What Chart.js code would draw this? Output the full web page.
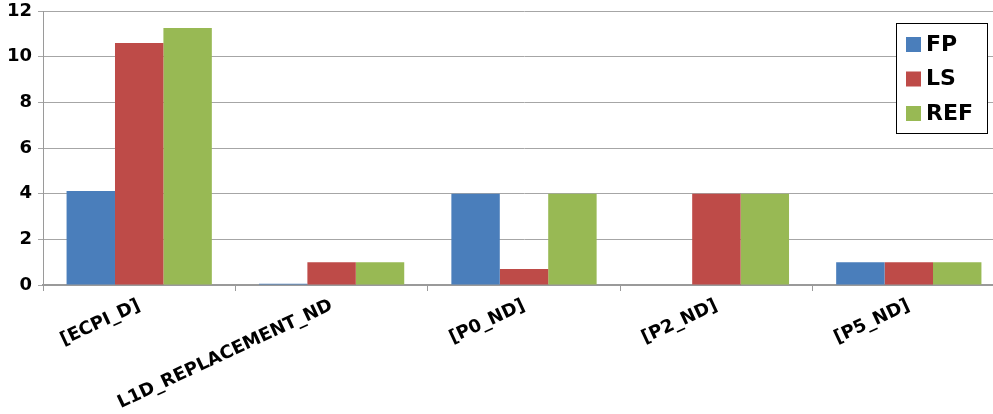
<!DOCTYPE html>
<html>
<head>
<meta charset="utf-8">
<script src="https://cdn.jsdelivr.net/npm/chart.js@4.4.1/dist/chart.umd.min.js"></script>
<style>
  html, body { margin: 0; padding: 0; background: #ffffff; overflow: hidden; }
  #wrap { width: 993px; height: 414px; position: relative; overflow: hidden; }
  #c { position: absolute; left: 0; top: 0; }
</style>
</head>
<body>
<div id="wrap"><canvas id="c" width="1005" height="414"></canvas></div>
<script>
// Event categories on the x axis
const categories = ['[ECPI_D]', 'L1D_REPLACEMENT_ND', '[P0_ND]', '[P2_ND]', '[P5_ND]'];

// Values per method
const fpValues  = [4.12, 0.05, 4.0, 0.0, 1.0];
const lsValues  = [10.6, 1.0, 0.7, 4.0, 1.0];
const refValues = [11.26, 1.0, 4.0, 4.0, 1.0];

// Y axis tick values
const yTicks = [0, 2, 4, 6, 8, 10, 12];

const seriesNames  = ['FP', 'LS', 'REF'];
const seriesColors = ['#4a7ebb', '#be4b48', '#98b954'];

const FONT = '"DejaVu Sans", sans-serif';
const VISIBLE_WIDTH = 993;

// Boxed legend drawn over the top-right corner of the plot
const boxLegend = {
  id: 'boxLegend',
  afterDraw(chart) {
    const ctx = chart.ctx;
    const area = chart.chartArea;
    const w = 91, h = 110;
    const x = VISIBLE_WIDTH - 97, y = area.top + 12;
    ctx.save();
    ctx.fillStyle = '#ffffff';
    ctx.fillRect(x, y, w, h);
    ctx.strokeStyle = '#000000';
    ctx.lineWidth = 1;
    ctx.strokeRect(x + 0.5, y + 0.5, w, h);
    ctx.font = 'bold 22px ' + FONT;
    ctx.textBaseline = 'middle';
    chart.data.datasets.forEach((ds, i) => {
      const cy = y + 21 + i * 34.5;
      ctx.fillStyle = ds.backgroundColor;
      ctx.fillRect(x + 10, cy - 7, 15, 15);
      ctx.fillStyle = '#000000';
      ctx.fillText(ds.label, x + 30, cy + 1);
    });
    ctx.restore();
  }
};

new Chart(document.getElementById('c'), {
  type: 'bar',
  data: {
    labels: categories,
    datasets: [
      { label: seriesNames[0], data: fpValues,  backgroundColor: seriesColors[0] },
      { label: seriesNames[1], data: lsValues,  backgroundColor: seriesColors[1] },
      { label: seriesNames[2], data: refValues, backgroundColor: seriesColors[2] }
    ]
  },
  options: {
    responsive: false,
    animation: false,
    devicePixelRatio: 1,
    layout: { padding: { top: 11, right: 0, left: 0, bottom: 0 } },
    datasets: {
      bar: { categoryPercentage: 0.755, barPercentage: 1.0, borderWidth: 0 }
    },
    plugins: {
      legend: { display: false },
      tooltip: { enabled: false }
    },
    scales: {
      x: {
        offset: true,
        grid: {
          offset: true,
          drawOnChartArea: false,
          drawTicks: true,
          tickLength: 6,
          color: '#9a9a9a',
          lineWidth: 1
        },
        border: { display: true, color: '#9a9a9a', width: 2 },
        ticks: {
          minRotation: 25,
          maxRotation: 25,
          autoSkip: false,
          padding: 4,
          color: '#000000',
          font: { family: FONT, size: 18, weight: 'bold' }
        },
        afterFit(scale) {
          scale.height = 129;
          scale.paddingLeft = 0;
          scale.paddingRight = 0;
        }
      },
      y: {
        min: 0,
        max: 12,
        afterBuildTicks(scale) { scale.ticks = yTicks.map(v => ({ value: v })); },
        grid: {
          color: '#a6a6a6',
          lineWidth: 1,
          drawTicks: true,
          tickLength: 5
        },
        border: { display: true, color: '#9a9a9a', width: 1 },
        ticks: {
          padding: 6,
          color: '#000000',
          font: { family: FONT, size: 18, weight: 'bold' }
        },
        afterFit(scale) {
          scale.width = 43;
          scale.paddingTop = 0;
          scale.paddingBottom = 0;
        }
      }
    }
  },
  plugins: [boxLegend]
});
</script>
</body>
</html>
